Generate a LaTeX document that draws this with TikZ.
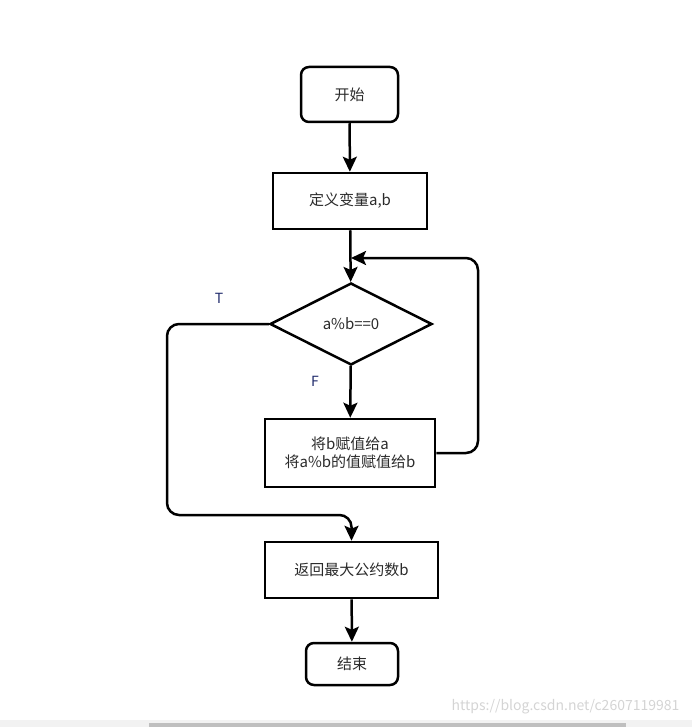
\documentclass[tikz,border=0pt]{standalone}
\usepackage{fontspec}
\setmainfont{Noto Sans CJK SC}
\usetikzlibrary{arrows.meta,shapes.geometric}
\definecolor{txtgray}{HTML}{2A2A2A}
\definecolor{labnavy}{HTML}{1F2A6B}
\definecolor{markgray}{HTML}{D4D4D4}
\begin{document}
\begin{tikzpicture}[x=1pt, y=-1pt, line width=2.5pt,
    >={Stealth[length=15pt, width=14pt, inset=3pt]},
    every node/.style={text=txtgray, font=\fontsize{15pt}{18pt}\selectfont},
    termbox/.style={draw, rounded corners=8pt, inner sep=0pt, minimum width=#1},
    procbox/.style={draw, inner sep=0pt, align=center, minimum width=#1},
    decbox/.style={draw, diamond, inner sep=0pt, minimum width=162pt, minimum height=82pt},
    branch/.style={text=labnavy, font=\fontsize{14pt}{15pt}\selectfont}]
    \useasboundingbox (0,0) rectangle (692,727);
    % Blocks
    \node[termbox=97pt, minimum height=55pt] (start) at (349.5,94.5) {开始};
    \node[procbox=154pt, minimum height=56pt] (def) at (350,201) {定义变量a,b};
    \node[decbox] (dec) at (351,324) {a\%b==0};
    \node[procbox=170pt, minimum height=68pt] (swap) at (350,453) {将b赋值给a\\将a\%b的值赋值给b};
    \node[procbox=173pt, minimum height=56pt] (ret) at (351.5,570) {返回最大公约数b};
    \node[termbox=92pt, minimum height=42pt] (stop) at (352,664) {结束};
    % Helper points
    \coordinate (merge) at (351,258);
    \coordinate (loopr) at (478,258);
    \coordinate (tcorner) at (167,515);
    % Straight flow
    \draw[->] (start) -- (def);
    \draw[->] (def) -- (dec);
    \draw[->] (dec) -- (swap);
    \draw[->] (ret) -- (stop);
    % Loop back and exit
    \draw[->, rounded corners=12pt] (swap.east) -| (loopr) -- (merge);
    \draw[->, rounded corners=12pt] (dec.west) -| (tcorner) -| (ret.north);
    % Branch labels
    \node[branch] (tlab) at (219,298) {T};
    \node[branch] (flab) at (315,381) {F};
    % Page frame
    \node[text=markgray, font=\fontsize{14pt}{15pt}\selectfont, anchor=east] (mark) at (684,707) {https://blog.csdn.net/c2607119981};
    \fill[black!5] (0,720) rectangle (692,727);
    \fill[black!25] (149,723) rectangle (626,727);
\end{tikzpicture}
\end{document}
